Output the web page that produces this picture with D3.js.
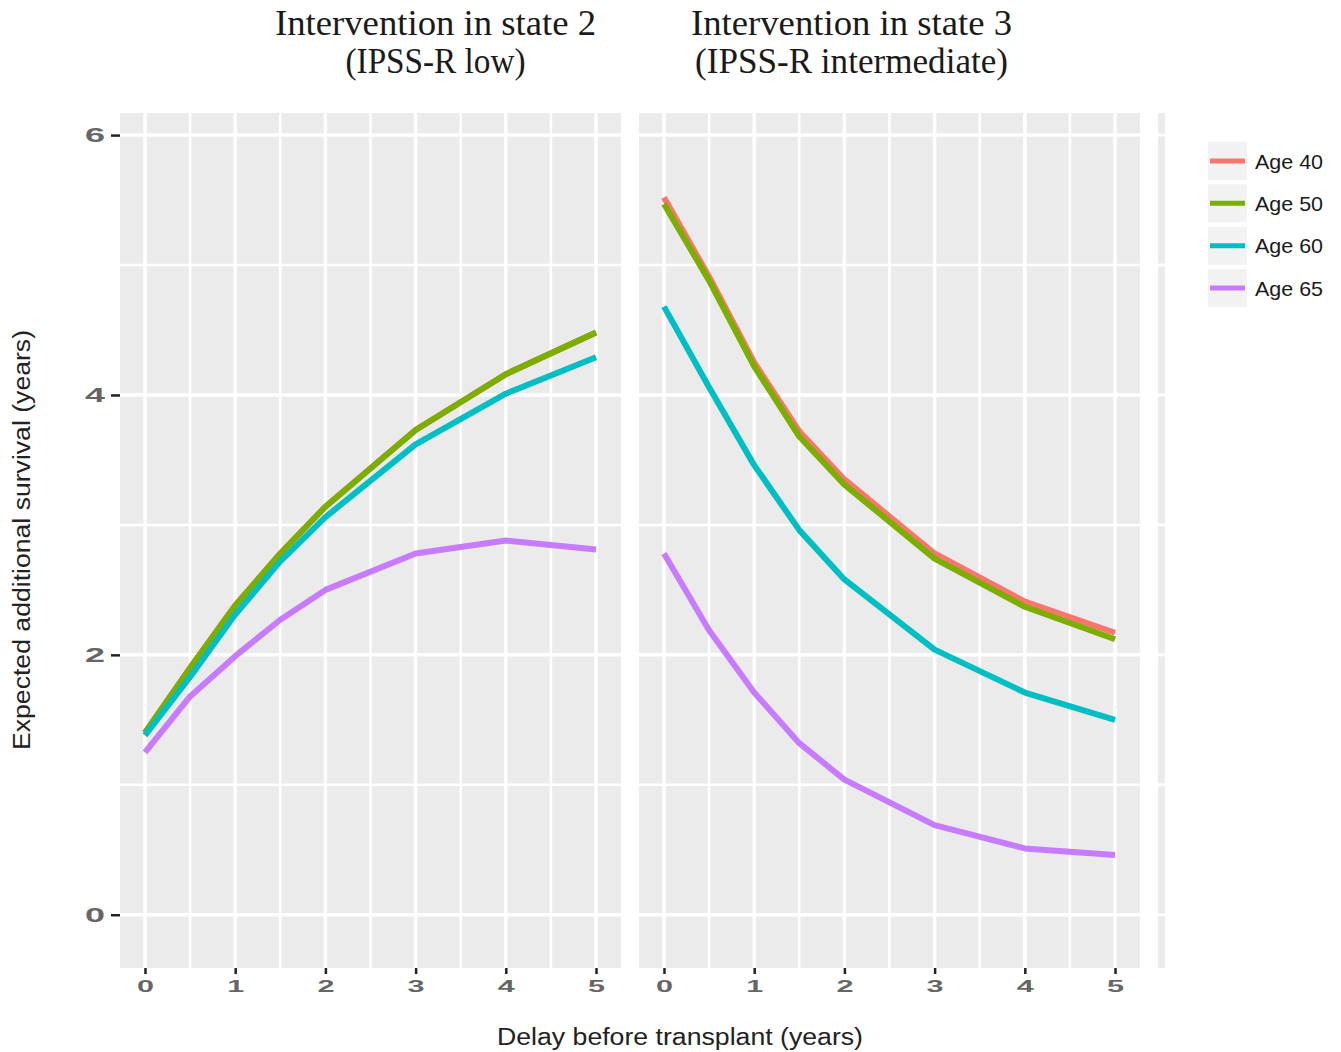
<!DOCTYPE html>
<html><head>
<meta charset="utf-8">
<title>Expected additional survival by delay before transplant</title>
<script src="https://d3js.org/d3.v7.min.js"></script>
<style>
  body { margin: 0; background: #fff; }
  svg { display: block; }
  .grid line { stroke: #fff; }
</style>
</head>
<body>
<svg id="chart" width="1341" height="1052"></svg>

<script>
// ---- data ----
const delays = [0, 0.5, 1, 1.5, 2, 3, 4, 5];
const ages = ["Age 40", "Age 50", "Age 60", "Age 65"];
const ageColors = ["#F8766D", "#7CAE00", "#00BFC4", "#C77CFF"];

// state 2 (IPSS-R low) -- age 40 sits underneath age 50 here
const s2Age40 = [1.40, 1.90, 2.38, 2.78, 3.14, 3.73, 4.16, 4.48];
const s2Age50 = [1.40, 1.90, 2.38, 2.78, 3.14, 3.73, 4.16, 4.48];
const s2Age60 = [1.38, 1.83, 2.31, 2.72, 3.06, 3.62, 4.01, 4.29];
const s2Age65 = [1.25, 1.68, 1.99, 2.27, 2.50, 2.78, 2.88, 2.81];

// state 3 (IPSS-R intermediate)
const s3Age40 = [5.52, 4.91, 4.25, 3.72, 3.35, 2.78, 2.41, 2.17];
const s3Age50 = [5.47, 4.88, 4.22, 3.68, 3.31, 2.74, 2.37, 2.12];
const s3Age60 = [4.68, 4.06, 3.46, 2.96, 2.58, 2.04, 1.71, 1.50];
const s3Age65 = [2.78, 2.19, 1.71, 1.32, 1.04, 0.69, 0.51, 0.46];

const panelTitles = [
  ["Intervention in state 2", "(IPSS-R low)"],
  ["Intervention in state 3", "(IPSS-R intermediate)"]
];
const xTicks = [0, 1, 2, 3, 4, 5];
const xMinor = [0.5, 1.5, 2.5, 3.5, 4.5];
const yTicks = [0, 2, 4, 6];
const yMinor = [1, 3, 5];

const panelSeries = [
  [s2Age40, s2Age50, s2Age60, s2Age65],
  [s3Age40, s3Age50, s3Age60, s3Age65]
];

// ---- layout ----
const svg = d3.select("#chart");
const panelLeft = [120, 639];
const panelW = 501;
const panelTop = 113, panelBottom = 968;

const x = d3.scaleLinear().domain([-0.277, 5.277]).range([0, panelW]);
const y = d3.scaleLinear().domain([-0.41, 6.17]).range([panelBottom, panelTop]);
const color = d3.scaleOrdinal().domain(ages).range(ageColors);

const line = d3.line()
  .x(d => x(d[0]))
  .y(d => y(d[1]));

// titles (serif, placed above each panel)
const titleX = [435.5, 851.5];
const titleLen = [[321, 180], [321, 313]];
panelTitles.forEach((lines, p) => {
  lines.forEach((t, i) => {
    svg.append("text")
      .attr("x", titleX[p])
      .attr("y", 35 + i * 38)
      .attr("text-anchor", "middle")
      .attr("textLength", titleLen[p][i])
      .attr("lengthAdjust", "spacingAndGlyphs")
      .style("font-family", "'Liberation Serif', 'DejaVu Serif', serif")
      .style("font-size", "35px")
      .style("fill", "#1a1a1a")
      .text(t);
  });
});

panelLeft.forEach((left, p) => {
  let g = svg.append("g").attr("transform", `translate(${left},0)`);

  g.append("rect")
    .attr("x", 0).attr("y", panelTop)
    .attr("width", panelW).attr("height", panelBottom - panelTop)
    .attr("fill", "#EBEBEB");

  let grid = g.append("g").attr("class", "grid");
  grid.selectAll("line.ymin").data(yMinor).join("line")
    .attr("class", "ymin")
    .attr("x1", 0).attr("x2", panelW)
    .attr("y1", d => y(d)).attr("y2", d => y(d))
    .attr("stroke-width", 2.5);
  grid.selectAll("line.xmin").data(xMinor).join("line")
    .attr("class", "xmin")
    .attr("y1", panelTop).attr("y2", panelBottom)
    .attr("x1", d => x(d)).attr("x2", d => x(d))
    .attr("stroke-width", 2.5);
  grid.selectAll("line.ymaj").data(yTicks).join("line")
    .attr("class", "ymaj")
    .attr("x1", 0).attr("x2", panelW)
    .attr("y1", d => y(d)).attr("y2", d => y(d))
    .attr("stroke-width", 3.5);
  grid.selectAll("line.xmaj").data(xTicks).join("line")
    .attr("class", "xmaj")
    .attr("y1", panelTop).attr("y2", panelBottom)
    .attr("x1", d => x(d)).attr("x2", d => x(d))
    .attr("stroke-width", 3.5);

  // series lines, drawn in age order so Age 65 ends up on top
  panelSeries[p].forEach((vals, i) => {
    g.append("path")
      .datum(delays.map((d, j) => [d, vals[j]]))
      .attr("fill", "none")
      .attr("stroke", color(ages[i]))
      .attr("stroke-width", 6)
      .attr("stroke-linejoin", "round")
      .attr("d", line);
  });

  // x axis
  let xAxis = g.append("g")
    .attr("transform", `translate(0,${panelBottom})`)
    .call(d3.axisBottom(x).tickValues(xTicks).tickSize(6).tickPadding(7).tickFormat(d3.format("d")));
  xAxis.select(".domain").remove();
  xAxis.selectAll(".tick line").attr("stroke", "#222").attr("stroke-width", 2.5);
  xAxis.selectAll(".tick text")
    .style("font-family", "Arial, 'Liberation Sans', sans-serif")
    .style("font-size", "16px")
    .style("font-weight", "bold")
    .style("fill", "#666")
    .attr("textLength", 17)
    .attr("lengthAdjust", "spacingAndGlyphs");
});

// the narrow cut-off strip at the far right
let strip = svg.append("g");
strip.append("rect")
  .attr("x", 1158).attr("y", panelTop)
  .attr("width", 7).attr("height", panelBottom - panelTop)
  .attr("fill", "#EBEBEB");
strip.selectAll("line").data(yTicks.concat(yMinor)).join("line")
  .attr("x1", 1158).attr("x2", 1165)
  .attr("y1", d => y(d)).attr("y2", d => y(d))
  .attr("stroke", "#fff").attr("stroke-width", 3);

// y axis (left panel only)
let yAxis = svg.append("g")
  .attr("transform", `translate(${panelLeft[0]},0)`)
  .call(d3.axisLeft(y).tickValues(yTicks).tickSize(9).tickPadding(6).tickFormat(d3.format("d")));
yAxis.select(".domain").remove();
yAxis.selectAll(".tick line").attr("stroke", "#222").attr("stroke-width", 2.5);
yAxis.selectAll(".tick text")
  .style("font-family", "Arial, 'Liberation Sans', sans-serif")
  .style("font-size", "20px")
  .style("font-weight", "bold")
  .style("fill", "#666")
  .attr("textLength", 20)
  .attr("lengthAdjust", "spacingAndGlyphs");

// axis titles
svg.append("text")
  .attr("x", 680).attr("y", 1045)
  .attr("text-anchor", "middle")
  .attr("textLength", 366)
  .attr("lengthAdjust", "spacingAndGlyphs")
  .style("font-family", "Arial, 'Liberation Sans', sans-serif")
  .style("font-size", "23px")
  .style("fill", "#222")
  .text("Delay before transplant (years)");

svg.append("text")
  .attr("transform", "translate(30,540) rotate(-90)")
  .attr("text-anchor", "middle")
  .attr("textLength", 420)
  .attr("lengthAdjust", "spacingAndGlyphs")
  .style("font-family", "Arial, 'Liberation Sans', sans-serif")
  .style("font-size", "23px")
  .style("fill", "#222")
  .text("Expected additional survival (years)");

// legend
const legendY = d3.scalePoint().domain(ages).range([161, 288]);
let legend = svg.append("g");
ages.forEach(a => {
  let cy = legendY(a);
  legend.append("rect")
    .attr("x", 1208).attr("y", cy - 19)
    .attr("width", 39).attr("height", 38)
    .attr("fill", "#F2F2F2");
  legend.append("line")
    .attr("x1", 1210).attr("x2", 1245)
    .attr("y1", cy).attr("y2", cy)
    .attr("stroke", color(a)).attr("stroke-width", 5);
  legend.append("text")
    .attr("x", 1255).attr("y", cy)
    .attr("dy", "0.36em")
    .attr("textLength", 68)
    .attr("lengthAdjust", "spacingAndGlyphs")
    .style("font-family", "Arial, 'Liberation Sans', sans-serif")
    .style("font-size", "21px")
    .style("fill", "#1a1a1a")
    .text(a);
});
</script>
</body>
</html>
